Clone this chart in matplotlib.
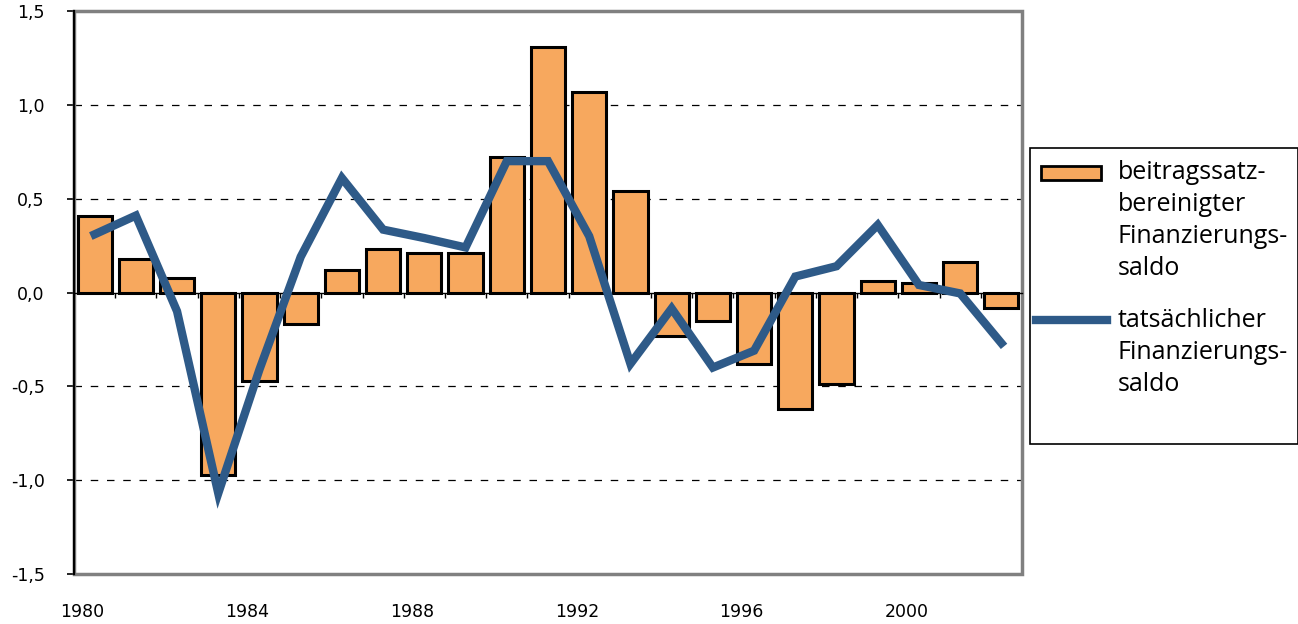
import matplotlib
matplotlib.use("Agg")
import matplotlib.pyplot as plt
from matplotlib.patches import Rectangle
from matplotlib.lines import Line2D

years = list(range(1980, 2003))
bereinigt = [0.41, 0.18, 0.075, -0.97, -0.47, -0.17, 0.12, 0.23, 0.21, 0.21, 0.72, 1.31,
             1.07, 0.54, -0.23, -0.15, -0.38, -0.62, -0.49, 0.06, 0.05, 0.165, -0.085]
tatsaechlich = [0.31, 0.41, -0.10, -1.07, -0.41, 0.19, 0.61, 0.335, 0.29, 0.24, 0.70, 0.70,
                0.30, -0.38, -0.085, -0.40, -0.31, 0.085, 0.14, 0.36, 0.04, -0.005, -0.27]
label_years = [1980, 1984, 1988, 1992, 1996, 2000]
y_ticks = [-1.5, -1.0, -0.5, 0.0, 0.5, 1.0, 1.5]
legend_labels = ["beitragssatz-\nbereinigter\nFinanzierungs-\nsaldo",
                 "tatsächlicher\nFinanzierungs-\nsaldo"]

bar_color = "#F7A85E"
line_color = "#2E5A88"

fig = plt.figure(figsize=(12.98, 6.24), dpi=100)
ax = fig.add_axes([74 / 1298, 50 / 624, 948 / 1298, 563 / 624])

x = list(range(len(years)))
ax.bar(x, bereinigt, width=0.83, color=bar_color, edgecolor="black", linewidth=2.2, zorder=3)
ax.plot(x, tatsaechlich, color=line_color, linewidth=6, zorder=4, solid_joinstyle="miter")

ax.set_xlim(-0.5, len(years) - 0.5)
ax.set_ylim(-1.5, 1.5)

# dashed grid lines
for v in [-1.0, -0.5, 0.5, 1.0]:
    ax.axhline(v, color="black", linewidth=0.9, linestyle=(0, (6, 7)), zorder=1)

# frame
ax.add_patch(Rectangle((0, 0), 1, 1, transform=ax.transAxes, fill=False,
                       edgecolor="#808080", linewidth=2.5, zorder=2, clip_on=False))
for s in ["top", "right"]:
    ax.spines[s].set_visible(False)
ax.spines["left"].set_color("black")
ax.spines["left"].set_linewidth(1.6)
ax.spines["left"].set_zorder(5)
ax.spines["bottom"].set_position(("data", 0))
ax.spines["bottom"].set_linewidth(1.0)
ax.spines["bottom"].set_zorder(2)

ax.set_xticks([i + 0.5 for i in range(len(years) - 1)])
ax.set_xticklabels([])
ax.tick_params(axis="x", direction="out", length=3.5, width=1)

ax.set_yticks(y_ticks)
ax.set_yticklabels([f"{v:.1f}".replace(".", ",") for v in y_ticks])
ax.tick_params(axis="y", direction="out", length=5, width=1.2, labelsize=12.5, pad=16)

sec = ax.secondary_xaxis("bottom")
sec.set_xticks([years.index(y) - 0.3 for y in label_years], [str(y) for y in label_years])
sec.tick_params(length=0, pad=21, labelsize=12.5)
sec.spines["bottom"].set_visible(False)

# legend
fig.add_artist(Rectangle((1030 / 1298, 180 / 624), 268 / 1298, 296 / 624,
                         transform=fig.transFigure, fill=False, edgecolor="black", linewidth=1.2))
fig.add_artist(Rectangle((1041 / 1298, (624 - 180) / 624), 60 / 1298, 14 / 624,
                         transform=fig.transFigure, facecolor=bar_color, edgecolor="black",
                         linewidth=2))
fig.add_artist(Line2D([1036 / 1298, 1107 / 1298], [(624 - 320) / 624] * 2,
                      transform=fig.transFigure, color=line_color, linewidth=6))
fig.text(1118 / 1298, (624 - 160) / 624, legend_labels[0], ha="left", va="top",
         fontsize=18, family="Open Sans", linespacing=1.36)
fig.text(1118 / 1298, (624 - 308) / 624, legend_labels[1], ha="left", va="top",
         fontsize=18, family="Open Sans", linespacing=1.36)

fig.savefig("out.png", dpi=100)
